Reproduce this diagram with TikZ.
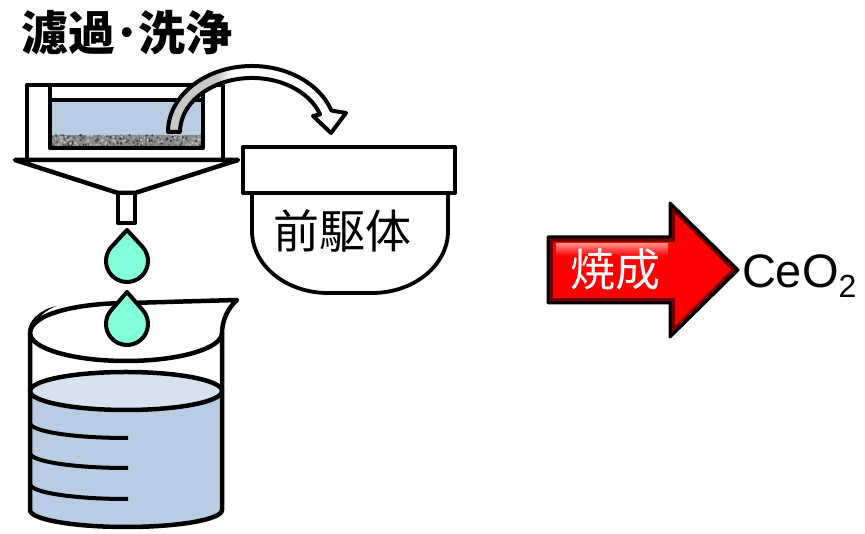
\documentclass[tikz,border=0pt]{standalone}
\usepackage{fontspec}
\newfontfamily\jp{Noto Sans CJK JP}
\newfontfamily\lat{Liberation Sans}
\definecolor{liquid}{HTML}{B8CCE4}
\definecolor{surface}{HTML}{D6E2F0}
\definecolor{dropc}{HTML}{80FFDA}
\definecolor{tubegray}{HTML}{C8C8C8}
\begin{document}
\begin{tikzpicture}[x=1pt,y=1pt,line join=round,
  ink/.style={draw=black,line width=4.5pt},
  thinink/.style={draw=black,line width=4pt},
  label/.style={inner sep=0pt,outer sep=0pt}]
\useasboundingbox (0,0) rectangle (865,534);

% ---- title ----
\node[label,font=\jp\bfseries\fontsize{47}{47}\selectfont] (title) at (127,501) {濾過･洗浄};

% ---- filter funnel ----
\fill[liquid] (50,399) rectangle (203,434);
\fill[black!45] (50,388) rectangle (203,399);
\begin{scope}
  \clip (50,388) rectangle (203,399);
  \pgfmathsetseed{42}
  \foreach \i in {1,...,320}{
    \pgfmathsetmacro{\xx}{50+153*rnd}
    \pgfmathsetmacro{\yy}{388+11*rnd}
    \pgfmathtruncatemacro{\gg}{20+60*rnd}
    \fill[black!\gg] (\xx,\yy) circle (1.3);
  }
\end{scope}
\draw[ink] (50,434) -- (203,434);
\draw[ink] (27,374) -- (27,449) -- (223,449) -- (223,374);
\draw[ink] (50,449) rectangle (203,386);
\draw[ink,fill=white] (15,374) -- (238,374) -- (135,341) -- (118,341) -- cycle;
\draw[ink,fill=white] (118,341) rectangle (135,311);

% ---- transfer arrow (filter cake to dish) ----
\begin{scope}
  \clip (168,402) arc[start angle=180,end angle=19,x radius=84,y radius=66]
    -- (346,421) -- (331,401) -- (313,418)
    -- (320.1,419.6) arc[start angle=19,end angle=180,x radius=72,y radius=54] -- cycle;
  \fill[tubegray] (150,390) rectangle (218,490);
  \shade[left color=tubegray,right color=white] (217,390) rectangle (232,490);
  \fill[white] (231,390) rectangle (360,490);
\end{scope}
\draw[thinink] (168,402) arc[start angle=180,end angle=19,x radius=84,y radius=66]
    -- (346,421) -- (331,401) -- (313,418)
    -- (320.1,419.6) arc[start angle=19,end angle=180,x radius=72,y radius=54] -- cycle;

% ---- precursor dish ----
\draw[line width=3.8pt,fill=white] (252,341) -- (252,303)
  arc[start angle=180,end angle=270,x radius=76,y radius=62] -- (372,241)
  arc[start angle=270,end angle=360,x radius=76,y radius=62] -- (448,341);
\draw[thinink,fill=white] (243,387) rectangle (455,341);
\node[label,font=\jp\fontsize{46}{46}\selectfont] (precursor) at (342,303) {前駆体};

% ---- beaker ----
\fill[liquid] (30,143) -- (30,24) arc[start angle=180,end angle=360,x radius=96,y radius=17]
  -- (222,143) arc[start angle=0,end angle=-180,x radius=96,y radius=19] -- cycle;
\draw[ink,fill=surface] (126,143) ellipse[x radius=96,y radius=19];
\foreach \yy in {111,81,50}{
  \draw[thinink,line cap=butt] (30,\yy) arc[start angle=180,end angle=270,x radius=96,y radius=15] -- ++(2,0);
}
\draw[ink] (30,201) -- (30,24) arc[start angle=180,end angle=360,x radius=96,y radius=17] -- (222,200);
\draw[ink] (30,201) arc[start angle=180,end angle=360,x radius=96,y radius=28];
\draw[ink] (30,201) .. controls (31,221) and (80,231) .. (130,231) -- (237,234)
  .. controls (228,226) and (222,214) .. (222,200);
\fill[black] (28,201) .. controls (28,214) and (40,224) .. (56,228)
  .. controls (42,222) and (33,212) .. (32,201) -- cycle;

% ---- drops ----
\draw[thinink,fill=dropc] (127,304) -- ({127+21*cos(42.6)},{273+21*sin(42.6)})
  arc[start angle=42.6,end angle=-222.6,radius=21] -- cycle;
\draw[thinink,fill=dropc] (127,242) -- ({127+21*cos(41)},{210+21*sin(41)})
  arc[start angle=41,end angle=-221,radius=21] -- cycle;

% ---- calcination arrow ----
\fill[red!45!black] (548,231) -- (548,297) -- (670,297) -- (670,331) -- (738,264) -- (670,197) -- (670,231) -- cycle;
\fill[red] (553,236) -- (553,292) -- (675,292) -- (675,320) -- (731,264) -- (675,208) -- (675,236) -- cycle;
\shade[top color=red!35!white,bottom color=red,opacity=0.8] (556,290) rectangle (668,278);
\draw[black,line width=3pt] (548,231) -- (548,297) -- (670,297) -- (670,331) -- (738,264) -- (670,197) -- (670,231) -- cycle;
\node[label,text=white,font=\jp\fontsize{45}{45}\selectfont] (calc) at (615,264) {焼成};

% ---- product ----
\node[label,anchor=base west,font=\lat\fontsize{47}{47}\selectfont] (product) at (742,246)
  {CeO\raisebox{-10pt}{\fontsize{32}{32}\selectfont 2}};
\end{tikzpicture}
\end{document}
